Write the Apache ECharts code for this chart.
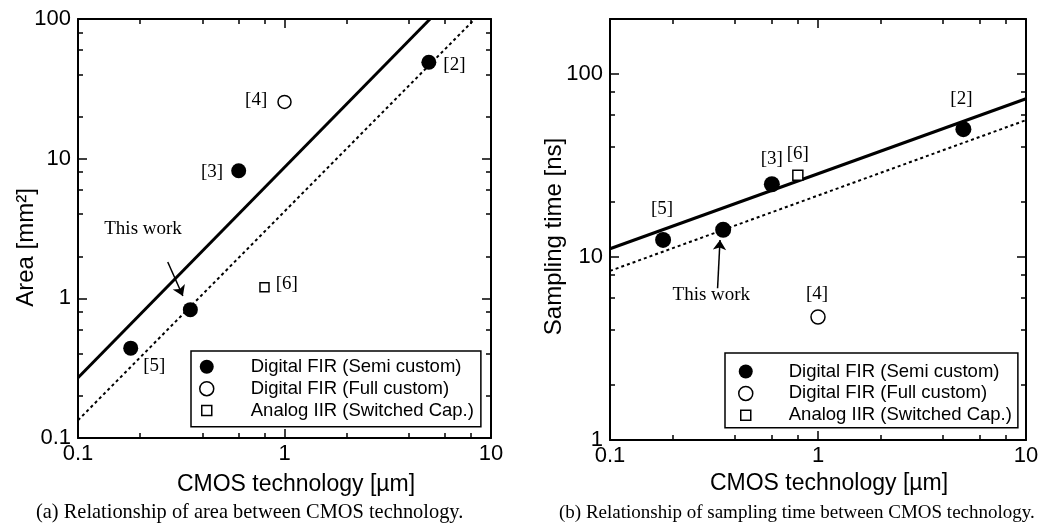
<!DOCTYPE html>
<html>
<head>
<meta charset="utf-8">
<script src="https://cdn.jsdelivr.net/npm/echarts@6.0.0/dist/echarts.min.js"></script>
<style>
html,body{margin:0;padding:0;background:#fff;}
#chart{width:1058px;height:523px;}
</style>
</head>
<body>
<div id="chart"></div>
<script>
// ---------- Data ----------
const seriesNames = ['Digital FIR (Semi custom)', 'Digital FIR (Full custom)', 'Analog IIR (Switched Cap.)'];

// (a) Area [mm2] vs CMOS technology [um]
const semiA_x = [0.18, 0.35, 0.6, 5.0];
const semiA_y = [0.44, 0.83, 8.2, 49];
const semiA_ref = ['[5]', '', '[3]', '[2]'];
const fullA_x = [1.0];
const fullA_y = [25.5];
const fullA_ref = ['[4]'];
const analogA_x = [0.8];
const analogA_y = [1.2];
const analogA_ref = ['[6]'];
const fitSolidA_x = [0.1, 5.07];
const fitSolidA_y = [0.27, 100];
const fitDotA_x = [0.1, 8.35];
const fitDotA_y = [0.134, 100];
const noteA_text = [0.2065, 3.13];
const noteA_arrowFrom = [0.272, 1.82];
const noteA_arrowTo = [0.322, 1.04];

// (b) Sampling time [ns] vs CMOS technology [um]
const semiB_x = [0.18, 0.35, 0.6, 5.0];
const semiB_y = [12.4, 14.1, 25, 50];
const semiB_ref = ['[5]', '', '[3]', '[2]'];
const fullB_x = [1.0];
const fullB_y = [4.7];
const fullB_ref = ['[4]'];
const analogB_x = [0.8];
const analogB_y = [28];
const analogB_ref = ['[6]'];
const fitSolidB_x = [0.1, 10];
const fitSolidB_y = [11.1, 73.3];
const fitDotB_x = [0.1, 10];
const fitDotB_y = [8.4, 56];
const noteB_text = [0.307, 6.2];
const noteB_arrowFrom = [0.329, 6.75];
const noteB_arrowTo = [0.338, 12.4];

const noteText = 'This work';

// Axis ticks
const xMajorTicks = [0.1, 1, 10];
const xMinorTicks = [0.2, 0.4, 0.6, 0.8, 2, 4, 6, 8];
const yAMajorTicks = [0.1, 1, 10, 100];
const yAMinorTicks = [0.2, 0.4, 0.6, 0.8, 2, 4, 6, 8, 20, 40, 60, 80];
const yBMajorTicks = [1, 10, 100];
const yBMinorTicks = [2, 4, 6, 8, 20, 40, 60, 80];

const captionA = '(a) Relationship of area between CMOS technology.';
const captionB = '(b) Relationship of sampling time between CMOS technology.';

// ---------- Styles ----------
const SANS = 'Liberation Sans, Arial, Helvetica, sans-serif';
const SERIF = 'Liberation Serif, Times New Roman, serif';
const fmt = v => String(Number(Number(v).toPrecision(6)));

const labelPosA = {
  '[5]': {position: 'right', offset: [0, 18]},
  '[3]': {position: 'left', offset: [-3, 1]},
  '[2]': {position: 'right', offset: [2, 3]},
  '[4]': {position: 'left', offset: [-5, -2]},
  '[6]': {position: 'right', offset: [1, -3]}
};
const labelPosB = {
  '[5]': {position: 'top', offset: [-1, -8]},
  '[3]': {position: 'top', offset: [0, -3]},
  '[6]': {position: 'top', offset: [0, -1]},
  '[2]': {position: 'top', offset: [-2, -8]},
  '[4]': {position: 'top', offset: [-1, -1]}
};

function mkData(xs, ys, refs, posMap) {
  return xs.map((x, i) => {
    const r = refs[i];
    return {
      value: [x, ys[i]],
      label: r ? Object.assign({show: true, formatter: r, color: '#000', fontFamily: SERIF, fontSize: 19}, posMap[r]) : {show: false}
    };
  });
}
const pairs = (xs, ys) => xs.map((x, i) => [x, ys[i]]);

function makeAxes(dim, gridIndex, min, max, major, minor, name, nameOpts) {
  const main = dim === 'x' ? 'bottom' : 'left';
  const opp = dim === 'x' ? 'top' : 'right';
  const base = {type: 'log', logBase: 10, gridIndex, min, max, splitLine: {show: false}, axisPointer: {show: false}};
  const tickStyle = {color: '#000', width: 1.5};
  return [
    Object.assign({}, base, {
      position: main,
      axisLine: {show: true, onZero: false, lineStyle: {color: '#000', width: 2}},
      axisTick: {show: true, inside: true, length: 9, customValues: major, lineStyle: tickStyle},
      axisLabel: {show: true, customValues: major, formatter: fmt, color: '#000', fontFamily: SANS, fontSize: 22, margin: dim === 'x' ? 5 : 7},
      name: name, nameLocation: 'middle', nameMoveOverlap: false
    }, nameOpts),
    Object.assign({}, base, {
      position: main,
      axisLine: {show: false},
      axisTick: {show: true, inside: true, length: 5, customValues: minor, lineStyle: tickStyle},
      axisLabel: {show: false}
    }),
    Object.assign({}, base, {
      position: opp,
      axisLine: {show: true, onZero: false, lineStyle: {color: '#000', width: 2}},
      axisTick: {show: true, inside: true, length: 9, customValues: major, lineStyle: tickStyle},
      axisLabel: {show: false}
    }),
    Object.assign({}, base, {
      position: opp,
      axisLine: {show: false},
      axisTick: {show: true, inside: true, length: 5, customValues: minor, lineStyle: tickStyle},
      axisLabel: {show: false}
    })
  ];
}

const xAxes = [].concat(
  makeAxes('x', 0, 0.1, 10, xMajorTicks, xMinorTicks, 'CMOS technology [µm]',
    {nameGap: 35, nameTextStyle: {color: '#000', fontFamily: SANS, fontSize: 23, padding: [0, 0, 0, 23]}}),
  makeAxes('x', 1, 0.1, 10, xMajorTicks, xMinorTicks, 'CMOS technology [µm]',
    {nameGap: 32, nameTextStyle: {color: '#000', fontFamily: SANS, fontSize: 23, padding: [0, 0, 0, 22]}})
);
const yAxes = [].concat(
  makeAxes('y', 0, 0.1, 100, yAMajorTicks, yAMinorTicks, 'Area [mm²]',
    {nameGap: 40, nameTextStyle: {color: '#000', fontFamily: SANS, fontSize: 24, padding: [0, 38, 0, 0]}}),
  makeAxes('y', 1, 1, 200, yBMajorTicks, yBMinorTicks, 'Sampling time [ns]',
    {nameGap: 44, nameTextStyle: {color: '#000', fontFamily: SANS, fontSize: 24, padding: [0, 14, 0, 0]}})
);

function plotSeries(ax, d) {
  const xi = ax * 4, yi = ax * 4;
  return [
    {type: 'line', xAxisIndex: xi, yAxisIndex: yi, data: pairs(d.solidX, d.solidY), showSymbol: false, symbol: 'none',
     lineStyle: {color: '#000', width: 3}, silent: true, z: 1},
    {type: 'line', xAxisIndex: xi, yAxisIndex: yi, data: pairs(d.dotX, d.dotY), showSymbol: false, symbol: 'none',
     lineStyle: {color: '#000', width: 2, type: [3, 3]}, silent: true, z: 1},
    {name: seriesNames[0], type: 'scatter', xAxisIndex: xi, yAxisIndex: yi, symbol: 'circle', symbolSize: d.big,
     itemStyle: {color: '#000', opacity: 1}, data: mkData(d.semiX, d.semiY, d.semiRef, d.pos), z: 3},
    {name: seriesNames[1], type: 'scatter', xAxisIndex: xi, yAxisIndex: yi, symbol: 'circle', symbolSize: d.open,
     itemStyle: {color: '#fff', borderColor: '#000', borderWidth: 1.5, opacity: 1}, data: mkData(d.fullX, d.fullY, d.fullRef, d.pos), z: 3},
    {name: seriesNames[2], type: 'scatter', xAxisIndex: xi, yAxisIndex: yi, symbol: 'rect', symbolSize: d.sq,
     itemStyle: {color: '#fff', borderColor: '#000', borderWidth: 1.5, opacity: 1}, data: mkData(d.anaX, d.anaY, d.anaRef, d.pos), z: 3},
    {type: 'scatter', xAxisIndex: xi, yAxisIndex: yi, symbolSize: 1, itemStyle: {color: 'rgba(0,0,0,0)', opacity: 1}, silent: true, z: 4,
     data: [{value: d.noteAt, label: {show: true, position: 'inside', formatter: noteText, color: '#000', fontFamily: SERIF, fontSize: 19}}],
     markLine: {silent: true, symbol: ['none', 'arrow'], symbolSize: 10, label: {show: false},
       itemStyle: {color: '#000'},
       lineStyle: {color: '#000', width: 1.5, type: 'solid', opacity: 1},
       data: [[{coord: d.arrowFrom}, {coord: d.arrowTo}]]}}
  ];
}

const legendItems = [
  {name: seriesNames[0], icon: 'circle', itemStyle: {color: '#000', borderWidth: 0, opacity: 1}},
  {name: seriesNames[1], icon: 'circle', itemStyle: {color: '#fff', borderColor: '#000', borderWidth: 1.5, opacity: 1}},
  {name: seriesNames[2], icon: 'path://M0,0M14,14M2,2L12,2L12,12L2,12Z', itemStyle: {color: '#fff', borderColor: '#000', borderWidth: 1.5, opacity: 1}}
];
function makeLegend(left, top, padding, textPad) {
  return {
    orient: 'vertical', left, top, padding, itemWidth: 24, itemHeight: 14, itemGap: 2.9,
    borderColor: '#000', borderWidth: 1.5, backgroundColor: '#fff', selectedMode: false,
    data: legendItems,
    textStyle: {color: '#000', fontFamily: SANS, fontSize: 18.5, padding: [0, 0, 0, textPad]}
  };
}

const option = {
  animation: false,
  backgroundColor: '#fff',
  title: [
    {text: captionA, left: 36, top: 503, padding: 0, textStyle: {color: '#000', fontFamily: SERIF, fontSize: 20.4, fontWeight: 'normal'}},
    {text: captionB, left: 559, top: 504, padding: 0, textStyle: {color: '#000', fontFamily: SERIF, fontSize: 19, fontWeight: 'normal'}}
  ],
  grid: [
    {left: 78, top: 19, width: 413, height: 419, containLabel: false, outerBoundsMode: 'none'},
    {left: 610, top: 19, width: 416, height: 421, containLabel: false, outerBoundsMode: 'none'}
  ],
  legend: [
    makeLegend(191, 351, [6.3, 7, 6.6, 8], 27),
    makeLegend(725, 353, [9, 6, 3, 13], 26)
  ],
  xAxis: xAxes,
  yAxis: yAxes,
  series: [].concat(
    plotSeries(0, {solidX: fitSolidA_x, solidY: fitSolidA_y, dotX: fitDotA_x, dotY: fitDotA_y,
      semiX: semiA_x, semiY: semiA_y, semiRef: semiA_ref, fullX: fullA_x, fullY: fullA_y, fullRef: fullA_ref,
      anaX: analogA_x, anaY: analogA_y, anaRef: analogA_ref, pos: labelPosA, big: 15, open: 13, sq: 9,
      noteAt: noteA_text, arrowFrom: noteA_arrowFrom, arrowTo: noteA_arrowTo}),
    plotSeries(1, {solidX: fitSolidB_x, solidY: fitSolidB_y, dotX: fitDotB_x, dotY: fitDotB_y,
      semiX: semiB_x, semiY: semiB_y, semiRef: semiB_ref, fullX: fullB_x, fullY: fullB_y, fullRef: fullB_ref,
      anaX: analogB_x, anaY: analogB_y, anaRef: analogB_ref, pos: labelPosB, big: 16, open: 14, sq: 10,
      noteAt: noteB_text, arrowFrom: noteB_arrowFrom, arrowTo: noteB_arrowTo})
  )
};

const chart = echarts.init(document.getElementById('chart'), null, {renderer: 'canvas'});
chart.setOption(option);
</script>
</body>
</html>
